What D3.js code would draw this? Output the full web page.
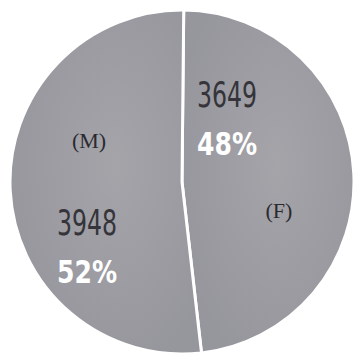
<!DOCTYPE html>
<html>
<head>
<meta charset="utf-8">
<script src="https://cdn.jsdelivr.net/npm/d3@7"></script>
<style>
  html, body { margin: 0; padding: 0; background: #fff; }
  svg { display: block; }
</style>
</head>
<body>
<svg id="chart" width="355" height="355"></svg>
<script>
// Headcount split by sex
const categories = ["(F)", "(M)"];
const counts = [3649, 3948];
const shares = ["48%", "52%"];

const width = 355, height = 355;
const cx = 182, cy = 182, radius = 172;

const svg = d3.select("#chart");
const g = svg.append("g").attr("transform", `translate(${cx},${cy})`);

const rows = categories.map((c, i) => ({ category: c, count: counts[i], share: shares[i] }));

const pie = d3.pie().sort(null).value(d => d.count).startAngle(0.01).endAngle(0.01 + 2 * Math.PI);
const arc = d3.arc().innerRadius(0).outerRadius(radius);

// soft radial shading of the grey fill
const defs = svg.append("defs");
const grad = defs.append("radialGradient").attr("id", "fill")
  .attr("cx", "55%").attr("cy", "45%").attr("r", "60%");
grad.append("stop").attr("offset", "0%").attr("stop-color", "#a4a4a9");
grad.append("stop").attr("offset", "100%").attr("stop-color", "#96969d");

g.selectAll("path.slice")
  .data(pie(rows))
  .join("path")
  .attr("class", "slice")
  .attr("d", arc)
  .attr("fill", "url(#fill)")
  .attr("stroke", "#ffffff")
  .attr("stroke-width", 3)
  .attr("stroke-linejoin", "round");

// label placement relative to the pie centre, per category
const place = {
  "(F)": { count: [45, -75], share: [45, -27], tag: [97, 36] },
  "(M)": { count: [-95, 53], share: [-95, 101], tag: [-93, -34] }
};

const labels = g.selectAll("g.label").data(rows).join("g").attr("class", "label");

labels.append("text")
  .attr("x", d => place[d.category].count[0])
  .attr("y", d => place[d.category].count[1])
  .attr("text-anchor", "middle")
  .attr("font-family", "'Liberation Sans Narrow', 'DejaVu Sans Condensed', 'Liberation Sans', sans-serif")
  .attr("font-size", 35)
  .attr("fill", "#34343a")
  .attr("textLength", 60)
  .attr("lengthAdjust", "spacingAndGlyphs")
  .text(d => d.count);

labels.append("text")
  .attr("x", d => place[d.category].share[0])
  .attr("y", d => place[d.category].share[1])
  .attr("text-anchor", "middle")
  .attr("font-family", "'Liberation Sans Narrow', 'DejaVu Sans Condensed', 'Liberation Sans', sans-serif")
  .attr("font-weight", "bold")
  .attr("font-size", 32)
  .attr("fill", "#ffffff")
  .attr("textLength", 60)
  .attr("lengthAdjust", "spacingAndGlyphs")
  .text(d => d.share);

labels.append("text")
  .attr("x", d => place[d.category].tag[0])
  .attr("y", d => place[d.category].tag[1])
  .attr("text-anchor", "middle")
  .attr("font-family", "'Liberation Serif', 'DejaVu Serif', serif")
  .attr("font-size", 22)
  .attr("fill", "#2a2a30")
  .text(d => d.category);
</script>
</body>
</html>
